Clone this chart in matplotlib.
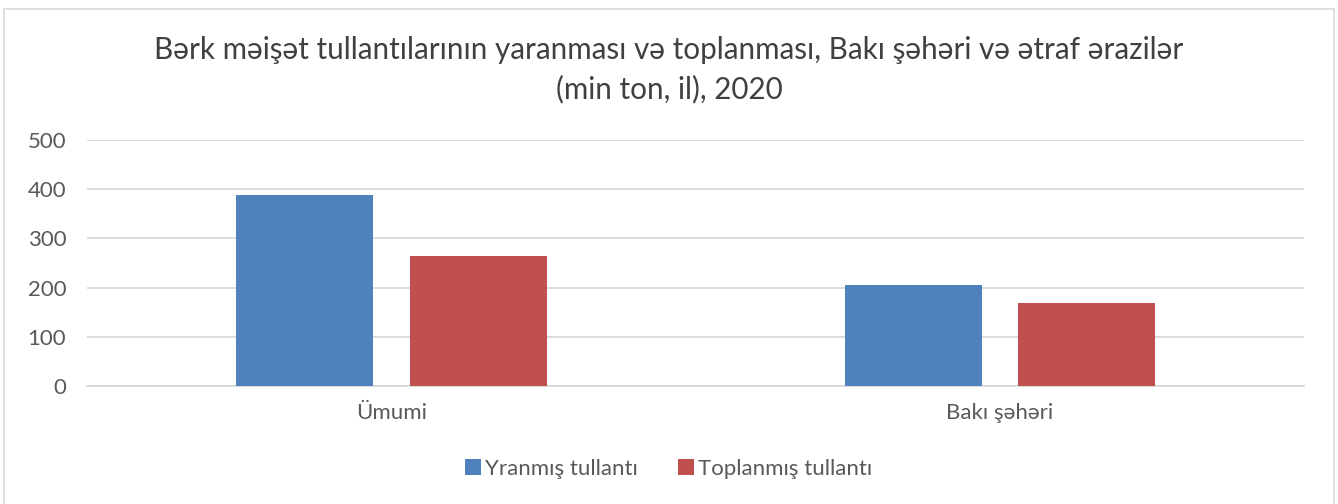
import numpy as np
import matplotlib.pyplot as plt
from matplotlib.patches import Rectangle

categories = ["Ümumi", "Bakı şəhəri"]
series_names = ["Yranmış tullantı", "Toplanmış tullantı"]
yaranmis = [389, 205]
toplanmis = [265, 169]

plt.rcParams['font.family'] = ['Lato', 'DejaVu Sans']

fig = plt.figure(figsize=(13.38, 5.04), dpi=100)
ax = fig.add_axes([87/1338, 1 - 386/504, (1304-87)/1338, (386-140)/504])

x = np.arange(len(categories))
w = 0.225
ax.bar(x - 0.142, yaranmis, w, color="#4f81bd", label=series_names[0], zorder=3)
ax.bar(x + 0.143, toplanmis, w, color="#c0504d", label=series_names[1], zorder=3)

ax.set_xlim(-0.5, 1.5)
ax.set_ylim(0, 500)
ax.set_yticks(range(0, 501, 100))
ax.yaxis.grid(True, color="#d9d9d9", linewidth=1.3, zorder=0)
ax.set_xticks(x)
ax.set_xticklabels(categories)
ax.tick_params(axis="both", length=0, labelsize=16, colors="#595959")
ax.tick_params(axis="y", pad=15)
ax.tick_params(axis="x", pad=12)
for s in ["top", "right", "left"]:
    ax.spines[s].set_visible(False)
ax.spines["bottom"].set_color("#d9d9d9")
ax.spines["bottom"].set_linewidth(1.3)

fig.text(0.5, 1 - 70/504, "Bərk məişət tullantılarının yaranması və toplanması, Bakı şəhəri və ətraf ərazilər\n(min ton, il), 2020",
         ha="center", va="center", fontsize=21.3, color="#404040", linespacing=1.45)

fig.legend(loc="center", bbox_to_anchor=(0.5, 1 - 469/504), ncol=2, frameon=False,
           fontsize=16, labelcolor="#595959", handlelength=0.7, handleheight=0.7,
           columnspacing=1.8, handletextpad=0.2)

fig.patches.append(Rectangle((4/1338, -0.1), 1330/1338, 1 - 9/504 + 0.1, transform=fig.transFigure,
                             fill=False, edgecolor="#d9d9d9", linewidth=1.2))

fig.savefig("out.png", dpi=100)
